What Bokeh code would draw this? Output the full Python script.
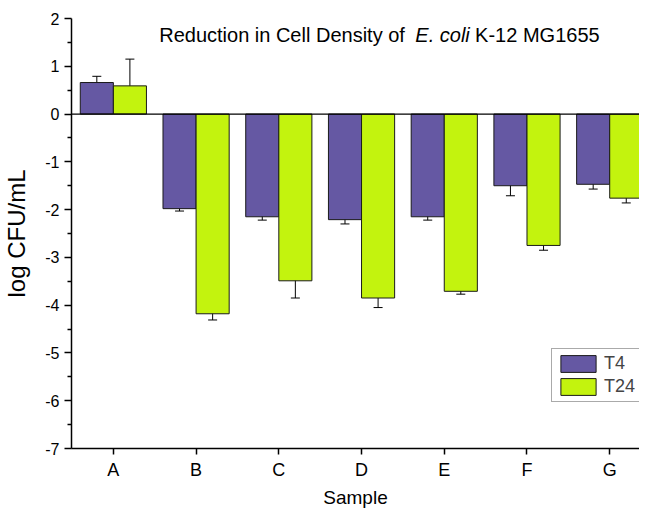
from bokeh.plotting import figure
from bokeh.models import ColumnDataSource, Range1d, FixedTicker, Whisker, TeeHead, Span, Label, Legend, LegendItem
from bokeh.transform import dodge
from bokeh.embed import file_html
from bokeh.resources import INLINE

categories = ["A", "B", "C", "D", "E", "F", "G"]
t4 = [0.66, -1.98, -2.15, -2.21, -2.15, -1.50, -1.47]
t4_err = [0.13, 0.05, 0.07, 0.09, 0.07, 0.21, 0.10]
t24 = [0.59, -4.18, -3.49, -3.85, -3.71, -2.75, -1.76]
t24_err = [0.56, 0.13, 0.36, 0.20, 0.06, 0.10, 0.10]
y_ticks = [-7, -6, -5, -4, -3, -2, -1, 0, 1, 2]

idx = list(range(len(categories)))
src = ColumnDataSource(dict(
    x=idx, t4=t4, t24=t24,
    t4_lo=[v - e for v, e in zip(t4, t4_err)], t4_hi=[v + e for v, e in zip(t4, t4_err)],
    t24_lo=[v - e for v, e in zip(t24, t24_err)], t24_hi=[v + e for v, e in zip(t24, t24_err)],
))

FONT = "Liberation Sans"
p = figure(width=639, height=510, output_backend="svg", toolbar_location=None,
           x_range=Range1d(-0.506, 6.36), y_range=Range1d(-7, 2),
           min_border_left=69, min_border_right=0, min_border_top=18, min_border_bottom=61)
p.outline_line_color = None
p.grid.visible = False
p.background_fill_color = "white"

c4 = "#6558A3"
c24 = "#C3F30E"
r1 = p.vbar(x=dodge("x", -0.2, range=p.x_range), top="t4", bottom=0, width=0.4, source=src,
            fill_color=c4, line_color="#1a1a1a", line_width=1)
r2 = p.vbar(x=dodge("x", 0.2, range=p.x_range), top="t24", bottom=0, width=0.4, source=src,
            fill_color=c24, line_color="#1a1a1a", line_width=1)

for lo, hi, off in (("t4_lo", "t4_hi", -0.2), ("t24_lo", "t24_hi", 0.2)):
    w = Whisker(base=dodge("x", off, range=p.x_range), lower=lo, upper=hi, source=src,
                line_color="black", line_width=1,
                upper_head=TeeHead(size=9, line_color="black", line_width=1),
                lower_head=TeeHead(size=9, line_color="black", line_width=1))
    p.add_layout(w)

p.add_layout(Span(location=0, dimension="width", line_color="black", line_width=1.2))

# axes
p.xaxis.ticker = FixedTicker(ticks=idx, minor_ticks=[i + 0.5 for i in idx])
p.xaxis.major_label_overrides = {i: c for i, c in zip(idx, categories)}
p.yaxis.ticker = FixedTicker(ticks=y_ticks, minor_ticks=[v + 0.5 for v in y_ticks[:-1]])
p.yaxis.major_label_overrides = {v: str(v) for v in y_ticks}
for ax in (p.xaxis, p.yaxis):
    ax.axis_line_width = 1.5
    ax.axis_line_color = "black"
    ax.major_tick_line_width = 1.5
    ax.minor_tick_line_width = 1.5
    ax.major_tick_in = 0
    ax.minor_tick_in = 0
    ax.major_label_text_font = FONT
    ax.axis_label_text_font = FONT
    ax.axis_label_text_font_style = "normal"
    ax.major_label_text_color = "black"
    ax.axis_label_text_color = "black"
p.yaxis.major_tick_out = 7
p.yaxis.minor_tick_out = 4
p.xaxis.major_tick_out = 6
p.xaxis.minor_tick_out = 0
p.yaxis.major_label_text_font_size = "16px"
p.xaxis.major_label_text_font_size = "18px"
p.xaxis.major_label_standoff = 5
p.yaxis.axis_label = "log CFU/mL"
p.xaxis.axis_label = "Sample"
p.yaxis.axis_label_text_font_size = "24px"
p.xaxis.axis_label_text_font_size = "19px"
p.yaxis.axis_label_standoff = 12
p.xaxis.axis_label_standoff = 4

# title inside the plot area
ty = 1.66
p.add_layout(Label(x=0.554, y=ty, text="Reduction in Cell Density of ", text_font=FONT,
                   text_font_size="20px", text_baseline="alphabetic", text_color="black"))
p.add_layout(Label(x=3.65, y=ty, text="E. coli", text_font=FONT, text_font_style="italic",
                   text_font_size="20px", text_baseline="alphabetic", text_color="black"))
p.add_layout(Label(x=4.373, y=ty, text="K-12 MG1655", text_font=FONT,
                   text_font_size="20px", text_baseline="alphabetic", text_color="black"))

legend = Legend(items=[LegendItem(label="T4", renderers=[r1]), LegendItem(label="T24", renderers=[r2])],
                location=(480, 46), label_text_font=FONT, label_text_font_size="18px",
                glyph_width=44, glyph_height=21, padding=4, spacing=2, margin=0,
                label_standoff=4, border_line_color="#555555", border_line_width=1,
                background_fill_alpha=1, label_height=21, label_width=60)
p.add_layout(legend)

open("out.html", "w").write(file_html(p, INLINE))
